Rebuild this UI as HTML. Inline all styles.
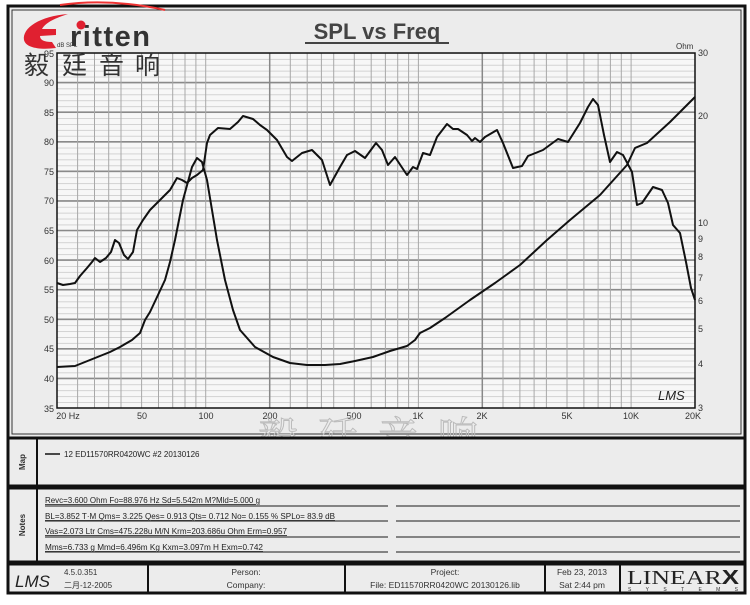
<!DOCTYPE html>
<html><head><meta charset="utf-8"><style>
body{margin:0;background:#fff;width:750px;height:600px;overflow:hidden;font-family:"Liberation Sans",Arial,sans-serif}
</style></head><body>
<svg width="750" height="600" viewBox="0 0 750 600" xmlns="http://www.w3.org/2000/svg" font-family="Liberation Sans, Arial, sans-serif">
<defs>
<pattern id="hg" x="0" y="53" width="10" height="5.9167" patternUnits="userSpaceOnUse">
<line x1="0" y1="0.3" x2="10" y2="0.3" stroke="#c4c4c4" stroke-width="0.8"/>
</pattern>
</defs>
<rect x="0" y="0" width="750" height="600" fill="#fff"/>
<rect x="8" y="6" width="737" height="587" fill="#ececec" stroke="#111" stroke-width="3"/>
<rect x="12" y="10" width="729" height="424" fill="#ececec" stroke="#333" stroke-width="1"/>
<text x="377" y="39" font-size="22" font-weight="bold" fill="#444" text-anchor="middle">SPL vs Freq</text>
<line x1="305" y1="43" x2="449" y2="43" stroke="#444" stroke-width="2"/>
<text x="676" y="49" font-size="8" fill="#333">Ohm</text>
<rect x="57" y="53" width="638" height="355" fill="#f7f7f7"/>
<rect x="57" y="53" width="638" height="355" fill="url(#hg)"/>
<g stroke="#8a8a8a" stroke-width="1.6">
<path d="M57 82.6H695M57 112.2H695M57 141.8H695M57 171.3H695M57 200.9H695M57 230.5H695M57 260.1H695M57 289.7H695M57 319.3H695M57 348.8H695M57 378.4H695"/>
</g>
<g stroke="#a8a8a8" stroke-width="1">
<path d="M77.6 53V408M94.5 53V408M108.7 53V408M121 53V408M141.6 53V408M158.5 53V408M172.7 53V408M185 53V408M195.9 53V408M205.7 53V408
M290.3 53V408M307.2 53V408M321.4 53V408M333.7 53V408M354.3 53V408M371.2 53V408M385.4 53V408M397.7 53V408M408.6 53V408M418.4 53V408
M503 53V408M519.9 53V408M534.1 53V408M546.4 53V408M567 53V408M583.9 53V408M598.1 53V408M610.4 53V408M621.3 53V408M631.1 53V408"/>
</g>
<g stroke="#888" stroke-width="1.5"><path d="M269.7 53V408M482.3 53V408"/></g>
<rect x="57" y="53" width="638" height="355" fill="none" stroke="#111" stroke-width="1.5"/>
<g font-size="9" fill="#333" text-anchor="end">
<text x="54" y="57">95</text><text x="54" y="86">90</text><text x="54" y="116">85</text><text x="54" y="145">80</text>
<text x="54" y="175">75</text><text x="54" y="204">70</text><text x="54" y="234">65</text><text x="54" y="264">60</text>
<text x="54" y="293">55</text><text x="54" y="323">50</text><text x="54" y="352">45</text><text x="54" y="382">40</text><text x="54" y="412">35</text>
</g>
<g font-size="9" fill="#333" text-anchor="middle">
<text x="68" y="419">20  Hz</text><text x="142" y="419">50</text><text x="206" y="419">100</text><text x="270" y="419">200</text>
<text x="354" y="419">500</text><text x="418" y="419">1K</text><text x="482" y="419">2K</text><text x="567" y="419">5K</text>
<text x="631" y="419">10K</text><text x="693" y="419">20K</text>
</g>
<g font-size="9" fill="#333">
<text x="698" y="56">30</text><text x="698" y="119">20</text><text x="698" y="226">10</text><text x="698" y="242">9</text>
<text x="698" y="260">8</text><text x="698" y="281">7</text><text x="698" y="304">6</text><text x="698" y="332">5</text>
<text x="698" y="367">4</text><text x="698" y="411">3</text>
</g>
<text x="658" y="400" font-size="13" font-style="italic" fill="#222">LMS</text>
<polyline fill="none" stroke="#111" stroke-width="2" stroke-linejoin="round" points="57,283 63,285 70,284 75,283 80,276 87,268 92,262 95,258 100,262 106,258 111,252 115,240 119,243 124,255 128,259 133,252 137,230 143,220 150,210 160,200 170,190 177,178 182,180 187,183 192,178 197,175 203,170 207,143 210,135 218,128 230,129 238,122 243,116 253,119 260,125 267,130 277,140 287,157 292,161 302,153 312,150 322,160 330,185 340,167 347,155 355,151 365,158 376,143 382,150 388,165 395,157 401,166 407,175 413,167 417,169 423,153 430,155 437,137 447,124 453,129 458,129 467,135 472,141 475,138 480,142 485,137 497,130 503,143 513,168 522,166 528,156 543,150 558,139 568,142 580,123 588,107 593,99 598,105 604,135 610,162 617,152 623,155 632,172 637,205 642,203 653,187 662,190 668,203 673,225 680,233 686,262 691,288 695,300"/>
<polyline fill="none" stroke="#111" stroke-width="2" stroke-linejoin="round" points="57,367 75,366 95,358 110,352 120,347 132,340 140,333 145,320 150,312 158,295 165,280 170,262 175,240 183,200 192,167 197,158 202,162 207,180 212,210 217,240 225,280 233,310 240,330 255,347 273,357 290,363 307,365 325,365 340,364 355,361 373,357 390,351 407,346 415,340 420,333 430,328 445,318 470,300 495,283 520,265 547,240 570,220 600,195 627,165 635,148 647,143 670,122 695,97"/>
<path d="M60 5 Q110 -2 165 10" stroke="#e33" stroke-width="2" fill="none"/>
<path d="M68 14 C40 16 22 28 24 40 C26 48 40 50 56 48 L52 42 C44 42 40 40 40 36 L56 35 L56 29 L42 29 C46 22 56 18 68 14 Z" fill="#e02030"/>
<text x="70" y="46" font-size="29" font-weight="bold" fill="#333" letter-spacing="1.5">ritten</text>
<circle cx="81" cy="25" r="4.5" fill="#e02030"/>
<text x="57" y="47" font-size="6" fill="#333">dB SPL</text>
<g font-size="25" fill="#333" font-family="Noto Sans CJK TC, sans-serif">
<text x="24" y="74">毅</text><text x="62" y="74">廷</text><text x="99" y="74">音</text><text x="135" y="74">响</text>
</g>
<g font-size="40" fill="none" stroke="#bbb" stroke-width="1" font-family="Noto Serif CJK SC, serif">
<text x="258" y="450">毅</text><text x="318" y="450">廷</text><text x="378" y="450">音</text><text x="438" y="450">响</text>
</g>
<!-- Map panel -->
<rect x="8" y="438" width="737" height="48" fill="#ececec" stroke="#111" stroke-width="3"/>
<line x1="37" y1="438" x2="37" y2="486" stroke="#111" stroke-width="2"/>
<text transform="translate(25,462) rotate(-90)" font-size="8" font-weight="bold" fill="#333" text-anchor="middle">Map</text>
<line x1="45" y1="454" x2="60" y2="454" stroke="#111" stroke-width="1.5"/>
<text x="64" y="457" font-size="8" fill="#222">12  ED11570RR0420WC #2 20130126</text>
<!-- Notes panel -->
<rect x="8" y="488" width="737" height="74" fill="#ececec" stroke="#111" stroke-width="3"/>
<line x1="37" y1="488" x2="37" y2="562" stroke="#111" stroke-width="2"/>
<text transform="translate(25,525) rotate(-90)" font-size="8" font-weight="bold" fill="#333" text-anchor="middle">Notes</text>
<g font-size="8" fill="#222" text-decoration="underline">
<text x="45" y="503" textLength="215" lengthAdjust="spacingAndGlyphs">Revc=3.600 Ohm  Fo=88.976 Hz  Sd=5.542m M?Mld=5.000 g</text>
<text x="45" y="519" textLength="290" lengthAdjust="spacingAndGlyphs">BL=3.852 T·M  Qms= 3.225  Qes= 0.913  Qts= 0.712  No= 0.155 %  SPLo= 83.9 dB</text>
<text x="45" y="534" textLength="242" lengthAdjust="spacingAndGlyphs">Vas=2.073 Ltr  Cms=475.228u M/N  Krm=203.686u Ohm  Erm=0.957</text>
<text x="45" y="550" textLength="218" lengthAdjust="spacingAndGlyphs">Mms=6.733 g  Mmd=6.496m Kg  Kxm=3.097m H  Exm=0.742</text>
</g>
<g stroke="#444" stroke-width="1.2">
<path d="M45 506H388M396 506H740M45 521H388M396 521H740M45 537H388M396 537H740M45 552H388M396 552H740"/>
</g>
<!-- footer -->
<rect x="8" y="564" width="737" height="29" fill="#ececec" stroke="#111" stroke-width="3"/>
<g stroke="#111" stroke-width="2"><path d="M148 564V593M345 564V593M545 564V593M620 564V593"/></g>
<text x="15" y="587" font-size="17" font-style="italic" fill="#222">LMS</text>
<text x="64" y="575" font-size="8" fill="#333">4.5.0.351</text>
<text x="64" y="588" font-size="8" fill="#333">二月-12-2005</text>
<g font-size="8.5" fill="#333" text-anchor="middle">
<text x="246" y="575">Person:</text><text x="246" y="588">Company:</text>
<text x="445" y="575">Project:</text><text x="445" y="588">File: ED11570RR0420WC 20130126.lib</text>
<text x="582" y="575">Feb 23, 2013</text><text x="582" y="588">Sat  2:44 pm</text>
</g>
<text x="627" y="584" font-size="20" fill="#222" font-family="Liberation Serif, serif" textLength="112" lengthAdjust="spacingAndGlyphs">LINEAR<tspan font-weight="bold" font-family="Liberation Sans, sans-serif">X</tspan></text>
<text x="628" y="591" font-size="5" fill="#333" textLength="110" lengthAdjust="spacing">SYSTEMS</text>
</svg>
</body></html>
